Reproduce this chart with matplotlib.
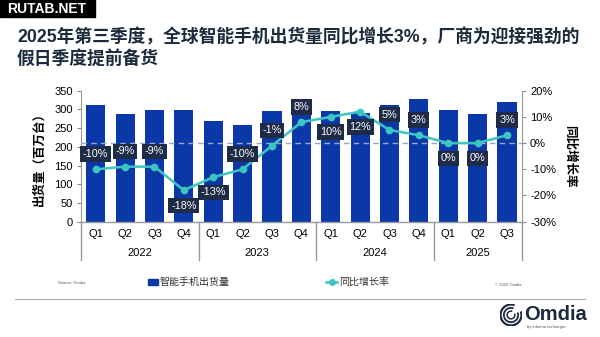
import numpy as np
import matplotlib.pyplot as plt
from matplotlib.patches import Rectangle, Arc
from matplotlib.lines import Line2D

plt.rcParams['font.family'] = ['Liberation Sans', 'Noto Sans CJK SC', 'DejaVu Sans']

# данные
years = ['2022', '2023', '2024', '2025']
quarters = ['Q1', 'Q2', 'Q3', 'Q4', 'Q1', 'Q2', 'Q3', 'Q4',
            'Q1', 'Q2', 'Q3', 'Q4', 'Q1', 'Q2', 'Q3']
shipments = [311, 288, 298, 298, 270, 259, 295, 320,
             297, 290, 311, 329, 298, 289, 319]
yoy = [-10, -9, -9, -18, -13, -10, -1, 8, 10, 12, 5, 3, 0, 0, 3]
label_above = [True, True, True, False, False, True, True, True,
               False, False, True, True, False, False, True]

bar_c = '#0b38a8'
line_c = '#3cc6c2'
box_c = '#1f2c47'
navy = '#1b2a3c'

fig = plt.figure(figsize=(6, 3.37), dpi=100)
W, H = 600, 337

def fx(px):
    return px / W

def fy(py):
    return 1 - py / H

# водяной знак
fig.patches.append(Rectangle((0, fy(17)), fx(95), 17 / H, transform=fig.transFigure,
                             color='black', zorder=5))
fig.text(fx(47), fy(9), 'RUTAB.NET', color='white', fontsize=10, fontweight='bold',
         ha='center', va='center', zorder=6)

# заголовок
fig.text(fx(17), fy(37), '2025年第三季度，全球智能手机出货量同比增长3%，厂商为迎接强劲的',
         fontsize=12.8, fontweight='bold', color=navy, va='center', ha='left')
fig.text(fx(17), fy(59), '假日季度提前备货',
         fontsize=12.8, fontweight='bold', color=navy, va='center', ha='left')

ax = fig.add_axes([fx(81), fy(221.7), fx(521.7) - fx(81), (221.7 - 90.7) / H])
x = np.arange(len(shipments))
ax.bar(x, shipments, width=0.65, color=bar_c, zorder=2)
ax.set_xlim(-0.5, len(shipments) - 0.5)
ax.set_ylim(0, 350)
ax.set_yticks(range(0, 351, 50))
ax.tick_params(axis='y', labelsize=8, length=3, color='#888888', pad=3)
ax.set_xticks([])
for s in ['top', 'right', 'bottom']:
    ax.spines[s].set_visible(False)
ax.spines['left'].set_color('#999999')
ax.set_ylabel('出货量（百万台）', fontsize=9, fontweight='bold', labelpad=6)

ax2 = ax.twinx()
ax2.set_ylim(-30, 20)
ax2.set_yticks(range(-30, 21, 10))
ax2.set_yticklabels([f'{v}%' for v in range(-30, 21, 10)])
ax2.tick_params(axis='y', labelsize=8, length=3, color='#888888', pad=3)
for s in ['top', 'left', 'bottom']:
    ax2.spines[s].set_visible(False)
ax2.spines['right'].set_color('#999999')
ax2.axhline(0, color='#9aa8c8', lw=1, ls=(0, (4, 3)), zorder=1)
ax2.plot(x, yoy, color=line_c, lw=1.8, marker='o', ms=4.5, zorder=4)
for xi, v, up in zip(x, yoy, label_above):
    off = 11 if up else -11
    ax2.annotate(f'{v}%', (xi, v), xytext=(0, off), textcoords='offset points',
                 ha='center', va='center', fontsize=7.8, color='white', zorder=6,
                 bbox=dict(boxstyle='square,pad=0.25', fc=box_c, ec='none'))
ax2.set_ylabel('同比增长率', fontsize=9, fontweight='bold', rotation=-90, labelpad=14)

# ось категорий
axis_c = '#999999'
ax.plot([0, 1], [0, 0], transform=ax.transAxes, color=axis_c, lw=1, clip_on=False, zorder=3)
ax.plot([0, 0], [0, -0.292], transform=ax.transAxes, color=axis_c, lw=1, clip_on=False)
ax.plot([1, 1], [0, -0.292], transform=ax.transAxes, color=axis_c, lw=1, clip_on=False)
trans = ax.get_xaxis_transform()
for xi, q in zip(x, quarters):
    ax.text(xi, -0.094, q, transform=trans, ha='center', va='center', fontsize=8)
starts = [0, 4, 8, 12]
ends = [4, 8, 12, 15]
for yr, s, e in zip(years, starts, ends):
    ax.text((s + e - 1) / 2, -0.24, yr, transform=trans, ha='center', va='center', fontsize=8)
    if s > 0:
        ax.plot([s - 0.5, s - 0.5], [0, -0.292], transform=trans, color=axis_c, lw=1,
                clip_on=False)

# легенда
fig.patches.append(Rectangle((fx(148), fy(285)), fx(10), 6 / H, transform=fig.transFigure,
                             color=bar_c))
fig.text(fx(160), fy(282), '智能手机出货量', fontsize=7.2, va='center', color='#333333')
fig.lines.append(Line2D([fx(326), fx(337)], [fy(282), fy(282)], transform=fig.transFigure,
                        color=line_c, lw=1.8))
fig.lines.append(Line2D([fx(331.5)], [fy(282)], transform=fig.transFigure,
                        color=line_c, marker='o', ms=4))
fig.text(fx(339), fy(282), '同比增长率', fontsize=7.2, va='center', color='#333333')

fig.text(fx(58), fy(283), 'Source: Omdia', fontsize=3, color='#555555', va='center')
fig.text(fx(495), fy(285), '© 2025 Omdia', fontsize=3, color='#555555', va='center')

fig.lines.append(Line2D([fx(15), fx(585)], [fy(299), fy(299)], transform=fig.transFigure,
                        color='#aaaaaa', lw=0.8))

# логотип
fig.text(fx(524), fy(314), 'Omdia', fontsize=14.5, fontweight='bold', color=navy,
         va='center', ha='left')
fig.text(fx(527), fy(327), 'by informa techtarget', fontsize=3, color='#555555',
         va='center', ha='left')
lax = fig.add_axes([fx(500), fy(326), fx(22), 22 / H])
lax.set_xlim(-1, 1)
lax.set_ylim(-1, 1)
lax.set_aspect('equal')
lax.axis('off')
for r, lw in [(0.95, 1.6), (0.65, 1.3), (0.35, 1.1)]:
    lax.add_patch(Arc((0, 0), 2 * r, 2 * r, theta1=70, theta2=380, color=navy, lw=lw))

fig.savefig('out.png', dpi=100)
